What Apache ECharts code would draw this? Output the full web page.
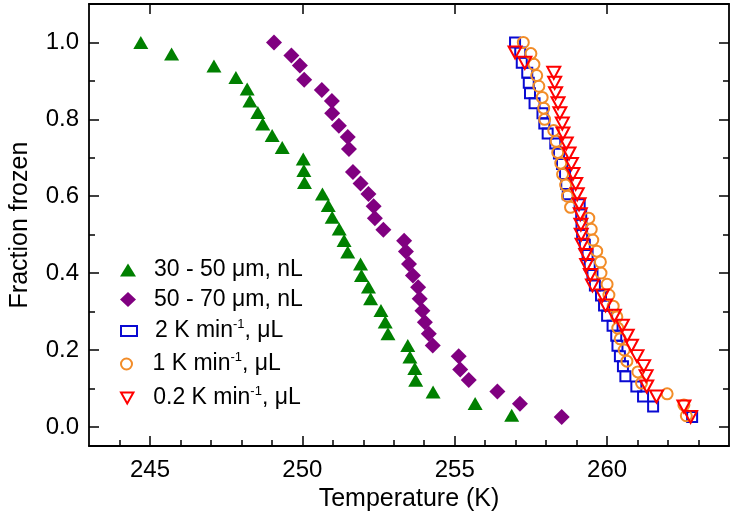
<!DOCTYPE html>
<html><head><meta charset="utf-8">
<script src="https://cdn.jsdelivr.net/npm/echarts@6/dist/echarts.min.js"></script>
<style>html,body{margin:0;padding:0;background:#fff}#c{width:733px;height:517px}</style>
</head><body><div id="c"></div>
<script>
var xTicks = [245, 250, 255, 260];
var xMinorTicks = [244, 246, 247, 248, 249, 251, 252, 253, 254, 256, 257, 258, 259, 261, 262, 263];
var yTicks = [0.0, 0.2, 0.4, 0.6, 0.8, 1.0];
var yMinorTicks = [0.1, 0.3, 0.5, 0.7, 0.9];

var seriesNames = ['30 - 50 μm, nL', '50 - 70 μm, nL', '2 K min-1, μL', '1 K min-1, μL', '0.2 K min-1, μL'];

var greenX = [244.70,245.71,247.10,247.82,248.19,248.28,248.54,248.70,249.01,249.34,250.03,250.05,250.07,250.66,250.85,250.98,251.21,251.37,251.49,251.91,251.94,252.17,252.24,252.58,252.72,252.81,253.46,253.53,253.69,253.72,254.29,255.67,256.87];
var greenY = [1.000,0.970,0.939,0.909,0.879,0.848,0.818,0.788,0.758,0.727,0.697,0.667,0.636,0.606,0.576,0.545,0.515,0.485,0.455,0.424,0.394,0.364,0.333,0.303,0.273,0.242,0.212,0.182,0.152,0.121,0.091,0.061,0.030];

var purpleX = [249.07,249.64,249.92,250.06,250.64,250.97,250.98,251.20,251.49,251.53,251.66,251.91,252.17,252.34,252.38,252.66,253.34,253.40,253.50,253.63,253.80,253.85,253.94,254.02,254.15,254.28,255.13,255.18,255.46,256.40,257.14,258.51];
var purpleY = [1.000,0.966,0.940,0.903,0.876,0.848,0.816,0.783,0.754,0.723,0.663,0.633,0.606,0.574,0.543,0.513,0.484,0.456,0.424,0.394,0.363,0.333,0.302,0.272,0.242,0.212,0.184,0.149,0.122,0.092,0.060,0.026];

var blueX = [256.98,257.15,257.20,257.38,257.43,257.47,257.62,257.88,257.94,258.05,258.30,258.42,258.52,258.62,258.66,258.71,259.10,259.15,259.16,259.18,259.27,259.36,259.43,259.52,259.60,259.80,259.90,260.00,260.18,260.30,260.34,260.42,260.52,260.60,260.96,261.18,261.51,262.79];
var blueY = [1.000,0.974,0.947,0.921,0.895,0.868,0.842,0.816,0.789,0.763,0.737,0.711,0.684,0.658,0.632,0.605,0.579,0.553,0.526,0.500,0.474,0.447,0.421,0.395,0.368,0.342,0.316,0.289,0.263,0.237,0.211,0.184,0.158,0.132,0.105,0.079,0.053,0.026];

var orangeX = [257.25,257.50,257.60,257.69,257.76,257.87,257.92,257.95,258.25,258.33,258.38,258.48,258.54,258.64,258.70,258.80,259.40,259.48,259.53,259.66,259.78,259.80,260.00,260.06,260.20,260.32,260.35,260.43,260.56,260.65,261.01,261.13,261.97,262.52,262.60];
var orangeY = [1.000,0.971,0.943,0.914,0.886,0.857,0.829,0.800,0.771,0.743,0.714,0.686,0.657,0.629,0.600,0.571,0.543,0.514,0.486,0.457,0.429,0.400,0.371,0.343,0.314,0.286,0.257,0.229,0.200,0.171,0.143,0.114,0.086,0.057,0.029];

var redX = [256.98,257.30,258.25,258.28,258.31,258.39,258.45,258.53,258.55,258.66,258.75,258.83,258.88,258.97,259.02,259.08,259.12,259.14,259.15,259.18,259.30,259.33,259.45,259.52,259.85,259.95,260.24,260.50,260.66,260.80,260.98,261.20,261.28,261.30,261.62,262.52,262.74];
var redY = [0.974,0.947,0.921,0.895,0.868,0.842,0.816,0.789,0.763,0.737,0.711,0.684,0.658,0.632,0.605,0.579,0.553,0.526,0.500,0.474,0.447,0.421,0.395,0.368,0.342,0.316,0.289,0.263,0.237,0.211,0.184,0.158,0.132,0.105,0.079,0.053,0.026];

function pairs(xs, ys){ return xs.map(function(x,i){ return [x, ys[i]]; }); }

var FONT = 'Liberation Sans, Arial, sans-serif';
var chart = echarts.init(document.getElementById('c'), null, {renderer:'canvas'});

var axisLine = {show:true, onZero:false, lineStyle:{color:'#000', width:1.8}};
var noLine = {show:false, onZero:false};
var tickStyle = {color:'#000', width:1.5};
var XMIN = 243, XMAX = 264, YMIN = -0.05, YMAX = 1.1;

function xAx(pos, ticks, len, showLine, label){
  return {type:'value', min:XMIN, max:XMAX, position:pos, gridIndex:0,
    axisLine: showLine ? axisLine : noLine,
    axisTick:{show:true, inside:true, length:len, lineStyle:tickStyle, customValues:ticks},
    axisLabel: label ? {color:'#000', fontSize:24, fontFamily:FONT, margin:12, customValues:ticks} : {show:false},
    splitLine:{show:false}, minorTick:{show:false}};
}
function yAx(pos, ticks, len, showLine, label){
  return {type:'value', min:YMIN, max:YMAX, position:pos, gridIndex:0,
    axisLine: showLine ? axisLine : noLine,
    axisTick:{show:true, inside:true, length:len, lineStyle:tickStyle, customValues:ticks},
    axisLabel: label ? {color:'#000', fontSize:24, fontFamily:FONT, margin:10, customValues:ticks,
      formatter:function(v){return v.toFixed(1);}} : {show:false},
    splitLine:{show:false}, minorTick:{show:false}};
}

var xBottom = xAx('bottom', xTicks, 10, true, true);
xBottom.name = 'Temperature (K)';
xBottom.nameLocation = 'middle';
xBottom.nameGap = 35;
xBottom.nameTextStyle = {color:'#000', fontSize:25, fontFamily:FONT};
var yLeft = yAx('left', yTicks, 10, true, true);
yLeft.name = 'Fraction frozen';
yLeft.nameLocation = 'middle';
yLeft.nameGap = 56;
yLeft.nameTextStyle = {color:'#000', fontSize:25, fontFamily:FONT};

var legendRows = [
  {name:seriesNames[0], top:270, h:13, icon:null},
  {name:seriesNames[1], top:299.5, h:15, icon:null},
  {name:seriesNames[2], top:331, h:10, icon:null},
  {name:seriesNames[3], top:364, h:11, icon:null},
  {name:seriesNames[4], top:398, h:11, icon:'path://M0,0L13,0L6.5,11.5Z'}
];
var richStyles = {
  f:{fontSize:23, fontFamily:FONT, color:'#000', lineHeight:26, padding:[0,0,0,13]},
  n:{fontSize:23, fontFamily:FONT, color:'#000', lineHeight:26},
  s:{fontSize:13, fontFamily:FONT, color:'#000', lineHeight:26, padding:[0,0,13,0]}
};
function fmt(name){
  if(name.indexOf('min-1')>=0){
    var parts = name.split('min-1');
    return '{f|' + parts[0] + 'min}{s|-1}{n|' + parts[1] + '}';
  }
  return '{f|' + name + '}';
}
var legends = legendRows.map(function(r){
  var d = {name:r.name};
  if(r.icon){ d.icon = r.icon; }
  return {
    orient:'vertical', left:120, top:r.top - 13, padding:0,
    itemWidth:16, itemHeight:r.h,
    textStyle:{color:'#000', fontSize:23, fontFamily:FONT, lineHeight:26, rich:richStyles},
    formatter:fmt,
    data:[d]
  };
});

var option = {
  backgroundColor:'#fff',
  animation:false,
  grid:{left:84, right:4, top:4, bottom:67},
  xAxis:[
    xBottom,
    xAx('top', xTicks, 10, true, false),
    xAx('bottom', xMinorTicks, 6, false, false)
  ],
  yAxis:[
    yLeft,
    yAx('right', yTicks, 10, true, false),
    yAx('left', yMinorTicks, 6, false, false),
    yAx('right', yMinorTicks, 6, false, false)
  ],
  legend: legends,
  series:[
    {name:seriesNames[0], type:'scatter', data:pairs(greenX, greenY), symbol:'triangle', symbolSize:[15,13],
     itemStyle:{color:'#008000', opacity:1}},
    {name:seriesNames[1], type:'scatter', data:pairs(purpleX, purpleY), symbol:'diamond', symbolSize:[16,16],
     itemStyle:{color:'#800080', opacity:1}},
    {name:seriesNames[2], type:'scatter', data:pairs(blueX, blueY), symbol:'rect', symbolSize:[10,10],
     itemStyle:{color:'rgba(255,255,255,0)', borderColor:'#0a0ad2', borderWidth:2, opacity:1}},
    {name:seriesNames[3], type:'scatter', data:pairs(orangeX, orangeY), symbol:'circle', symbolSize:[11,11],
     itemStyle:{color:'rgba(255,255,255,0)', borderColor:'#f28c28', borderWidth:2, opacity:1}},
    {name:seriesNames[4], type:'scatter', data:pairs(redX, redY), symbol:'triangle', symbolRotate:180, symbolSize:[13,12],
     itemStyle:{color:'rgba(255,255,255,0)', borderColor:'#ff0000', borderWidth:2, opacity:1}}
  ]
};
chart.setOption(option);
</script>
</body></html>
